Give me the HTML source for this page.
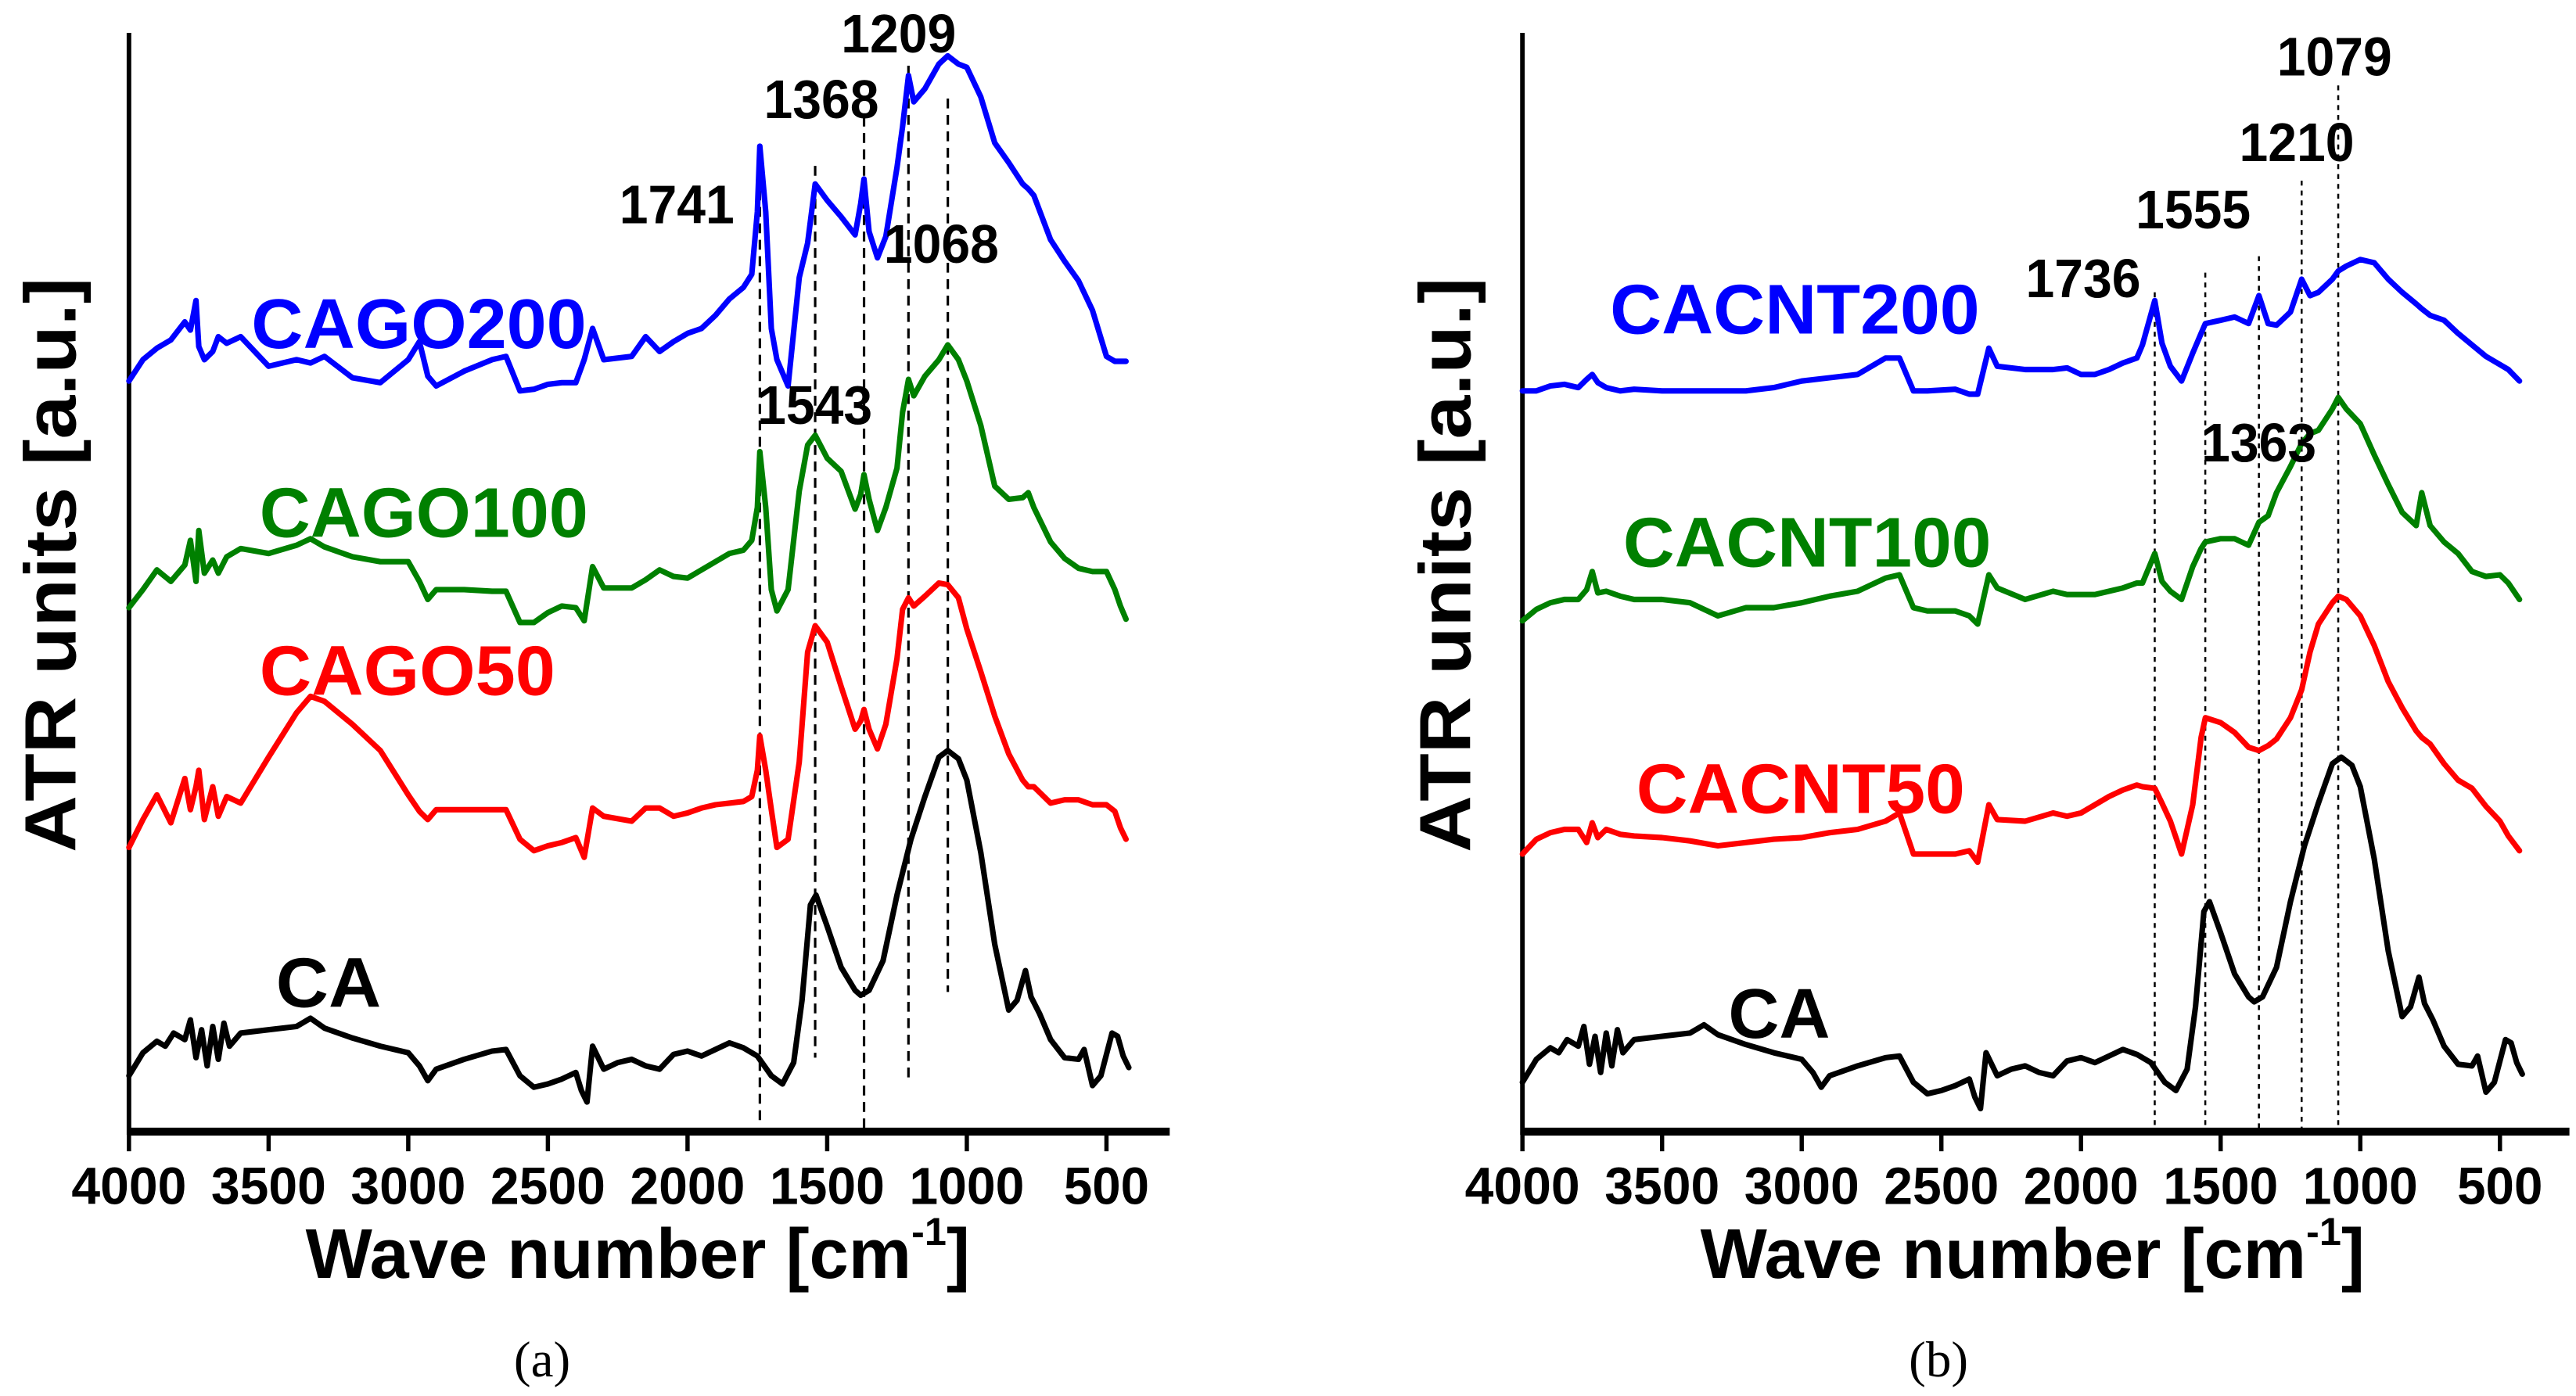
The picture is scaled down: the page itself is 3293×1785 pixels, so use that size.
<!DOCTYPE html>
<html><head><meta charset="utf-8"><style>
html,body{margin:0;padding:0;background:#fff;}
svg{display:block;}
text{font-family:"Liberation Sans",Arial,sans-serif;font-weight:bold;}
</style></head><body>
<svg id="chart" width="3293" height="1785" viewBox="0 0 1568 850" preserveAspectRatio="none" xmlns="http://www.w3.org/2000/svg">
<g id="pa"></g>
<g id="pb"></g>
</svg>
<script>
// wavenumbers (cm-1) and absorbance values (a.u., arbitrary offset)
const wnCA = [4000,3950,3900,3870,3840,3800,3780,3760,3740,3720,3700,3680,3660,3640,3600,3500,3400,3350,3300,3200,3100,3000,2960,2930,2900,2800,2700,2650,2600,2550,2500,2450,2400,2380,2360,2340,2300,2250,2200,2150,2100,2050,2000,1950,1900,1850,1800,1750,1700,1660,1620,1590,1560,1540,1500,1450,1400,1380,1350,1300,1250,1200,1150,1100,1068,1030,1000,950,900,850,820,790,770,740,700,650,600,580,550,520,480,460,440,420];
const vCA  = [34,48,55,52,60,56,68,45,62,40,64,44,66,52,60,62,64,69,63,57,52,48,40,31,38,44,49,50,34,27,29,32,36,25,18,52,38,42,44,40,38,47,49,46,50,54,51,46,34,29,42,80,138,144,125,100,86,83,86,104,144,178,204,228,232,227,214,170,114,74,80,98,82,72,56,45,44,50,28,34,60,58,46,39];
const wnGO = [4000,3950,3900,3850,3800,3780,3760,3750,3730,3700,3680,3650,3600,3500,3400,3350,3300,3200,3100,3000,2960,2930,2900,2800,2700,2650,2600,2550,2500,2450,2400,2370,2340,2300,2200,2150,2100,2050,2000,1950,1900,1850,1800,1770,1750,1741,1720,1700,1680,1640,1600,1570,1543,1500,1450,1400,1380,1368,1350,1320,1290,1250,1230,1209,1190,1150,1100,1068,1030,1000,950,900,850,800,780,760,700,650,600,550,500,470,450,430];
const vGO50  = [173,190,205,188,215,196,210,220,190,210,192,204,200,228,255,265,262,248,232,205,195,190,196,196,196,196,178,171,174,176,179,167,197,192,189,197,197,192,194,197,199,200,201,204,220,241,220,196,173,178,225,292,308,298,271,245,250,257,245,233,248,288,318,325,320,326,334,333,325,306,280,253,230,214,210,210,200,202,202,199,199,195,185,178];
const vGO100 = [319,330,342,335,345,360,335,366,340,348,340,350,355,352,357,361,356,350,347,347,335,324,330,330,329,329,310,310,316,320,319,311,344,331,331,336,342,338,337,342,347,352,354,360,380,414,380,330,317,330,390,418,424,410,402,379,388,400,385,366,380,404,438,458,448,460,470,479,470,457,430,393,385,386,389,380,359,349,343,341,341,330,320,312];
const vGO200 = [457,470,477,482,493,488,506,478,470,475,484,480,484,466,470,468,472,459,456,470,481,460,454,463,470,472,451,452,455,456,456,470,489,470,472,484,475,481,486,489,497,507,514,522,560,600,560,489,470,454,520,541,577,567,557,546,565,580,548,532,545,587,612,643,627,635,650,655,650,648,630,602,590,577,574,570,543,530,518,500,472,469,469,469];
const wnCNT = [4000,3950,3900,3850,3800,3770,3750,3730,3700,3650,3600,3500,3400,3300,3200,3100,3000,2900,2800,2700,2650,2600,2550,2450,2400,2370,2330,2300,2200,2100,2050,2000,1950,1900,1850,1800,1780,1736,1710,1680,1640,1600,1570,1555,1500,1450,1400,1363,1330,1300,1250,1210,1180,1150,1100,1079,1050,1000,950,900,850,800,780,750,700,650,600,550,500,470,430];
const vCNT50  = [169,178,182,184,184,176,188,179,184,181,180,179,177,174,176,178,179,182,184,189,194,169,169,169,171,164,199,190,189,194,192,194,199,204,208,211,210,209,200,189,169,199,240,252,249,243,234,232,235,239,252,269,292,309,322,326,324,314,296,274,258,244,240,236,224,214,209,198,189,180,171];
const vCNT100 = [311,318,322,324,324,330,341,328,329,326,324,324,322,314,319,319,322,326,329,337,339,319,317,317,314,309,339,331,324,329,327,327,327,329,331,334,334,352,335,329,324,344,355,359,361,361,357,371,375,389,405,419,425,427,440,447,440,431,412,394,377,369,389,369,359,352,341,338,339,334,324];
const vCNT200 = [451,451,454,455,453,458,461,456,453,451,452,451,451,451,451,453,457,459,461,471,471,451,451,452,449,449,477,466,464,464,465,461,461,464,468,471,479,506,480,466,457,474,486,492,494,496,492,509,492,491,499,519,509,511,519,524,527,531,529,519,511,504,501,497,494,486,479,472,467,464,457];
const tickVals = [4000,3500,3000,2500,2000,1500,1000,500];
const peaksA = [1741,1543,1368,1209,1068];
const peaksB = [1736,1555,1363,1210,1079];

const NS = "http://www.w3.org/2000/svg";
function mk(parent, tag, attrs){const e=document.createElementNS(NS,tag);for(const k in attrs)e.setAttribute(k,attrs[k]);parent.appendChild(e);return e;}

function drawPanel(g, x0, xEnd, cfg){
  const xS = v => x0 + (4000 - v) * 0.1700;
  const yS = v => 689 - v;
  const ya = mk(g,'line',{x1:x0,y1:20,x2:x0,y2:691,stroke:'#000','stroke-width':2.8});
  
  
  const xa = mk(g,'line',{x1:x0-1,y1:689,x2:xEnd,y2:689,stroke:'#000','stroke-width':4.8});
  
  
  tickVals.forEach(t=>{
    const tk = mk(g,'line',{x1:xS(t),y1:689,x2:xS(t),y2:701,stroke:'#000','stroke-width':2.6});
    
    
    const tl = mk(g,'text',{x:xS(t),y:733,'font-size':32,'text-anchor':'middle',textLength:t>=1000?70:52,lengthAdjust:'spacingAndGlyphs'});
    tl.textContent = t;
    
    
  });
  cfg.peaks.forEach((p,i)=>{
    const l = mk(g,'line',{x1:xS(p),y1:cfg.peakTop[i],x2:xS(p),y2:cfg.peakBot[i],stroke:'#000','stroke-width':cfg.dashW,'stroke-dasharray':cfg.dash});
    
    
  });
  cfg.series.forEach(s=>{
    const d = s.wn.map((w,i)=>(i?'L':'M')+xS(w).toFixed(1)+' '+yS(s.v[i]).toFixed(1)).join(' ');
    const p = mk(g,'path',{d:d,fill:'none',stroke:s.color,'stroke-width':3.4,'stroke-linejoin':'round','stroke-linecap':'round'});
    
    
    const t = mk(g,'text',{x:s.lx,y:s.ly,'font-size':43,fill:s.color,textLength:s.lw,lengthAdjust:'spacingAndGlyphs'});
    t.textContent = s.name;
    
    
  });
  cfg.labels.forEach(L=>{
    const t = mk(g,'text',{x:L[1],y:L[2],'font-size':33,'text-anchor':'middle',textLength:70,lengthAdjust:'spacingAndGlyphs'});
    t.textContent = L[0];
    
    
  });
  const yt = mk(g,'text',{x:0,y:0,'font-size':44,'text-anchor':'middle',transform:`translate(${cfg.ytx},344) rotate(-90)`,textLength:350,lengthAdjust:'spacingAndGlyphs'});
  yt.textContent = 'ATR units [a.u.]';
  
  
  const xt = mk(g,'text',{x:cfg.xtx,y:778,'font-size':43});
  
  
  const a1 = mk(xt,'tspan',{}); a1.textContent='Wave number [cm';
  const a2 = mk(xt,'tspan',{'font-size':24,dy:-20}); a2.textContent='-1';
  const a3 = mk(xt,'tspan',{dy:20}); a3.textContent=']';
  const cap = mk(g,'text',{x:cfg.capx,y:838,'font-size':31,'text-anchor':'middle',style:'font-family:"Liberation Serif",serif;font-weight:normal'});
  cap.textContent = cfg.cap;
  
  
}

drawPanel(document.getElementById('pa'), 78.5, 712, {
  peaks: peaksA, peakTop:[96,101,71,40,60], peakBot:[684,644,689,657,604],
  dash:'6,4', dashW:1.5,
  series:[
    {name:'CA',wn:wnCA,v:vCA,color:'#000',lx:168,ly:613,lw:64},
    {name:'CAGO50',wn:wnGO,v:vGO50,color:'#ff0000',lx:158,ly:423,lw:180},
    {name:'CAGO100',wn:wnGO,v:vGO100,color:'#008000',lx:158,ly:327,lw:200},
    {name:'CAGO200',wn:wnGO,v:vGO200,color:'#0000ff',lx:153,ly:212,lw:204}
  ],
  labels:[['1741',412,136],['1368',500,72],['1209',547,32],['1068',573,160],['1543',496,258]],
  ytx:46, xtx:186, capx:330, cap:'(a)'
});
drawPanel(document.getElementById('pb'), 926.7, 1564, {
  peaks: peaksB, peakTop:[178,166,156,110,52], peakBot:[689,689,689,689,689],
  dash:'3,3', dashW:1.2,
  series:[
    {name:'CA',wn:wnCA,v:vCA.map(x=>x-4),color:'#000',lx:1052,ly:632,lw:62},
    {name:'CACNT50',wn:wnCNT,v:vCNT50,color:'#ff0000',lx:996,ly:495,lw:200},
    {name:'CACNT100',wn:wnCNT,v:vCNT100,color:'#008000',lx:988,ly:345,lw:224},
    {name:'CACNT200',wn:wnCNT,v:vCNT200,color:'#0000ff',lx:980,ly:203,lw:225}
  ],
  labels:[['1736',1268,181],['1555',1335,139],['1210',1398,98],['1079',1421,46],['1363',1375,281]],
  ytx:895, xtx:1035, capx:1180, cap:'(b)'
});
</script>
</body></html>
